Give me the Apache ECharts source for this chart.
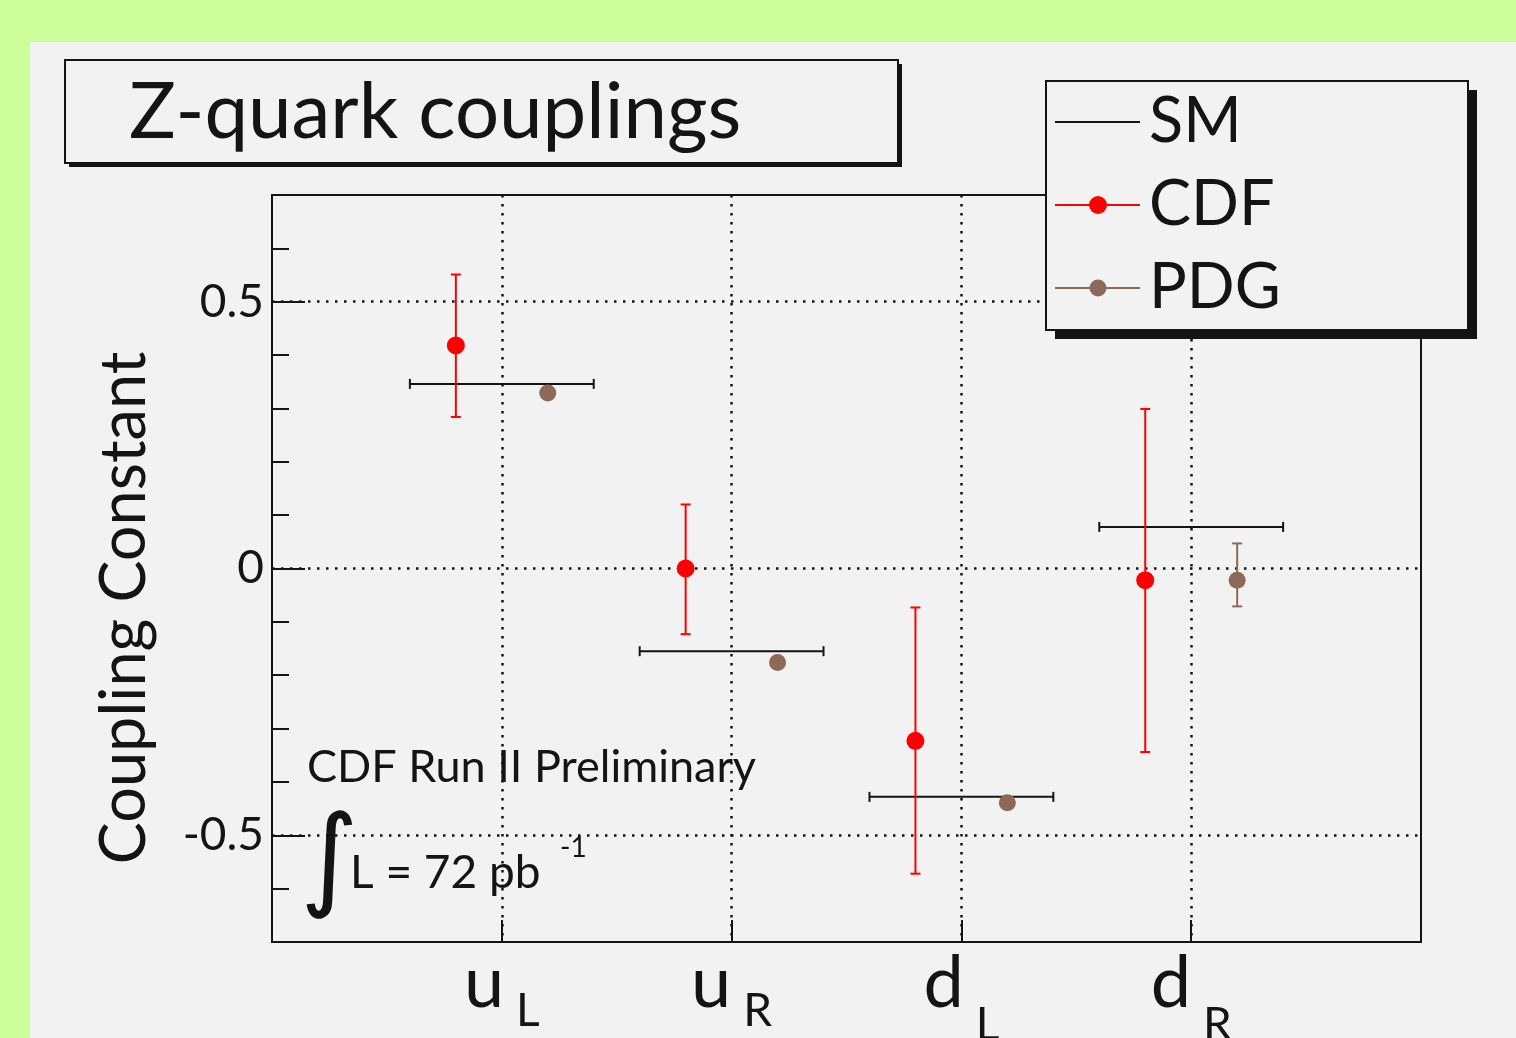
<!DOCTYPE html>
<html>
<head>
<meta charset="utf-8">
<title>Z-quark couplings</title>
<script src="https://cdn.jsdelivr.net/npm/echarts@6/dist/echarts.min.js"></script>
<style>
html, body { margin: 0; padding: 0; background: #ccff99; }
#main { position: absolute; left: 30px; top: 42px; width: 1486px; height: 996px; }
</style>
</head>
<body>
<div id="main"></div>
<script>
// quark labels (letter + subscript)
var quarks = ['u', 'u', 'd', 'd'];
var subs = ['L', 'R', 'L', 'R'];
var yTickLabels = [-0.5, 0, 0.5];

// Standard Model prediction
var smValue = [0.346, -0.155, -0.428, 0.078];
// CDF measurement with errors
var cdfValue = [0.418, 0.0, -0.323, -0.022];
var cdfLow = [0.284, -0.123, -0.572, -0.344];
var cdfHigh = [0.551, 0.120, -0.073, 0.299];
// PDG values
var pdgValue = [0.329, -0.176, -0.439, -0.022];
var pdgLow = [0.329, -0.176, -0.439, -0.071];
var pdgHigh = [0.329, -0.176, -0.439, 0.047];

var FONT = 'Lato';
var INK = '#141414';
var RED = '#ff0000';
var BROWN = '#8c6a57';
var cdfShift = -0.2, pdgShift = 0.2, smHalf = 0.4;

var myChart = echarts.init(document.getElementById('main'));

function errorBar(color, cap) {
    return function (params, api) {
        var x = api.value(0);
        var top = api.coord([x, api.value(2)]);
        var bot = api.coord([x, api.value(1)]);
        var st = { stroke: color, lineWidth: 2 };
        return {
            type: 'group',
            children: [
                { type: 'line', shape: { x1: top[0], y1: top[1], x2: bot[0], y2: bot[1] }, style: st },
                { type: 'line', shape: { x1: top[0] - cap, y1: top[1], x2: top[0] + cap, y2: top[1] }, style: st },
                { type: 'line', shape: { x1: bot[0] - cap, y1: bot[1], x2: bot[0] + cap, y2: bot[1] }, style: st }
            ]
        };
    };
}

function smLine(params, api) {
    var x = api.value(0), v = api.value(1);
    var a = api.coord([x - smHalf, v]);
    var b = api.coord([x + smHalf, v]);
    var st = { stroke: INK, lineWidth: 2 };
    return {
        type: 'group',
        children: [
            { type: 'line', shape: { x1: a[0], y1: a[1], x2: b[0], y2: b[1] }, style: st },
            { type: 'line', shape: { x1: a[0], y1: a[1] - 5, x2: a[0], y2: a[1] + 5 }, style: st },
            { type: 'line', shape: { x1: b[0], y1: b[1] - 5, x2: b[0], y2: b[1] + 5 }, style: st }
        ]
    };
}

var smData = [], cdfBars = [], cdfPts = [], pdgBars = [], pdgPts = [];
for (var i = 0; i < quarks.length; i++) {
    smData.push([i + 1, smValue[i]]);
    cdfBars.push([i + 1 + cdfShift, cdfLow[i], cdfHigh[i]]);
    cdfPts.push([i + 1 + cdfShift, cdfValue[i]]);
    pdgBars.push([i + 1 + pdgShift, pdgLow[i], pdgHigh[i]]);
    pdgPts.push([i + 1 + pdgShift, pdgValue[i]]);
}

var clear = 'rgba(0,0,0,0)';
var dotted = [2.5, 6.5];

myChart.setOption({
    backgroundColor: '#f2f2f2',
    animation: false,
    grid: {
        left: 242, top: 153, width: 1149, height: 747,
        outerBoundsMode: 'none', containLabel: false,
        show: true, borderColor: INK, borderWidth: 2
    },
    xAxis: {
        type: 'value', min: 0, max: 5, interval: 1,
        axisLine: { show: true, onZero: false, lineStyle: { color: INK, width: 2 } },
        axisTick: { show: true, inside: true, length: 22, lineStyle: { color: INK, width: 2 } },
        splitLine: { show: true, lineStyle: { color: [clear, INK, INK, INK, INK, clear], type: dotted, width: 2.5 } },
        axisLabel: {
            margin: 6,
            formatter: function (v) {
                var k = Math.round(v) - 1;
                if (k < 0 || k >= quarks.length) return '';
                // d has an ascender, its subscript sits lower
                var sub = quarks[k] === 'd' ? 't' : 's';
                return '{q|' + quarks[k] + '}{' + sub + '|' + subs[k] + '}';
            },
            rich: {
                q: { fontFamily: FONT, fontSize: 72, color: INK, verticalAlign: 'top', lineHeight: 80 },
                s: { fontFamily: FONT, fontSize: 46, color: INK, verticalAlign: 'top', lineHeight: 80, padding: [40, 0, 0, 12] },
                t: { fontFamily: FONT, fontSize: 46, color: INK, verticalAlign: 'top', lineHeight: 80, padding: [54, 0, 0, 12] }
            }
        }
    },
    yAxis: [{
        type: 'value', min: -0.7, max: 0.7, interval: 0.1,
        axisLine: { show: true, onZero: false, lineStyle: { color: INK, width: 2 } },
        axisTick: { show: true, inside: true, length: 17, lineStyle: { color: INK, width: 2 } },
        axisLabel: { show: false },
        splitLine: { show: true, lineStyle: { color: [clear, clear, INK, clear, clear], type: dotted, width: 2.5 } }
    }, {
        type: 'value', min: -0.7, max: 0.7, position: 'left',
        axisLine: { show: false },
        axisTick: { show: true, inside: true, length: 33, customValues: yTickLabels, lineStyle: { color: INK, width: 2 } },
        axisLabel: { customValues: yTickLabels, fontFamily: FONT, fontSize: 46, color: INK, margin: 8 },
        splitLine: { show: false }
    }],
    series: [{
        name: 'SM', type: 'custom', renderItem: smLine, data: smData, z: 3
    }, {
        name: 'CDF err', type: 'custom', renderItem: errorBar(RED, 5), data: cdfBars, z: 4
    }, {
        name: 'CDF', type: 'scatter', data: cdfPts, symbolSize: 18,
        itemStyle: { color: RED, opacity: 1 }, z: 5
    }, {
        name: 'PDG err', type: 'custom', renderItem: errorBar(BROWN, 5), data: pdgBars, z: 4
    }, {
        name: 'PDG', type: 'scatter', data: pdgPts, symbolSize: 17,
        itemStyle: { color: BROWN, opacity: 1 }, z: 5
    }],
    graphic: [
        // title box
        { type: 'rect', shape: { x: 39, y: 22, width: 833, height: 103 }, style: { fill: INK }, z: 10 },
        { type: 'rect', shape: { x: 35, y: 18, width: 833, height: 103 }, style: { fill: '#f2f2f2', stroke: INK, lineWidth: 2 }, z: 11 },
        { type: 'text', x: 99, y: 71, z: 12, style: { text: 'Z-quark couplings', font: '78px ' + FONT, fill: INK, verticalAlign: 'middle' } },
        // legend box
        { type: 'rect', shape: { x: 1025, y: 48, width: 422, height: 249 }, style: { fill: INK }, z: 10 },
        { type: 'rect', shape: { x: 1016, y: 39, width: 422, height: 249 }, style: { fill: '#f2f2f2', stroke: INK, lineWidth: 2 }, z: 11 },
        { type: 'line', shape: { x1: 1025, y1: 80, x2: 1110, y2: 80 }, style: { stroke: INK, lineWidth: 2 }, z: 12 },
        { type: 'line', shape: { x1: 1025, y1: 163, x2: 1110, y2: 163 }, style: { stroke: RED, lineWidth: 2 }, z: 12 },
        { type: 'circle', shape: { cx: 1068, cy: 163, r: 9 }, style: { fill: RED }, z: 13 },
        { type: 'line', shape: { x1: 1025, y1: 246, x2: 1110, y2: 246 }, style: { stroke: BROWN, lineWidth: 2 }, z: 12 },
        { type: 'circle', shape: { cx: 1068, cy: 246, r: 8.5 }, style: { fill: BROWN }, z: 13 },
        { type: 'text', x: 1119, y: 80, z: 12, style: { text: 'SM', font: '63px ' + FONT, fill: INK, verticalAlign: 'middle' } },
        { type: 'text', x: 1119, y: 163, z: 12, style: { text: 'CDF', font: '63px ' + FONT, fill: INK, verticalAlign: 'middle' } },
        { type: 'text', x: 1119, y: 246, z: 12, style: { text: 'PDG', font: '63px ' + FONT, fill: INK, verticalAlign: 'middle' } },
        // y axis title
        { type: 'text', x: 95, y: 566, rotation: Math.PI / 2, z: 12, style: { text: 'Coupling Constant', font: '63px ' + FONT, fill: INK, align: 'center', verticalAlign: 'middle' } },
        // annotation
        { type: 'text', x: 277, y: 725, z: 12, style: { text: 'CDF Run II Preliminary', font: '45px ' + FONT, fill: INK, verticalAlign: 'middle' } },
        { type: 'text', x: 270, y: 824, z: 12, style: { text: '\u222B', font: '112px "DejaVu Sans"', fill: INK, verticalAlign: 'middle' } },
        { type: 'text', x: 320, y: 831, z: 12, style: { text: 'L = 72 pb', font: '46px ' + FONT, fill: INK, verticalAlign: 'middle' } },
        { type: 'text', x: 530, y: 806, z: 12, style: { text: '-1', font: '28px ' + FONT, fill: INK, verticalAlign: 'middle' } }
    ]
});
</script>
</body>
</html>
